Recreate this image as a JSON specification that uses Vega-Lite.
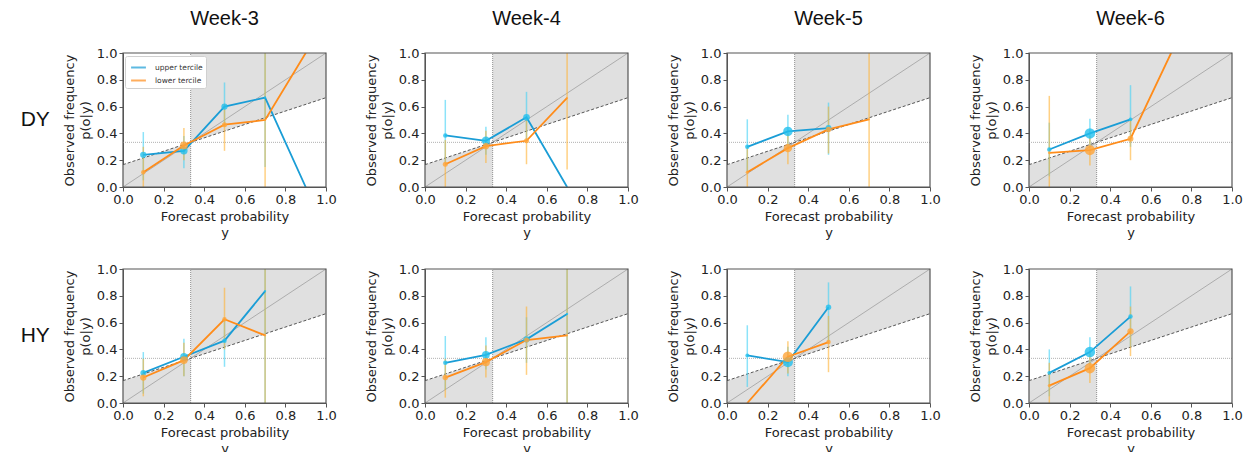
{
"$schema": "https://vega.github.io/schema/vega-lite/v6.json",
"padding": {"left": 20, "top": 9, "right": 5, "bottom": 0},
"background": "white",
"data": {"values": [
{"r":"DY","c":"Week-3","k":"panel"},{"r":"DY","c":"Week-4","k":"panel"},{"r":"DY","c":"Week-5","k":"panel"},{"r":"DY","c":"Week-6","k":"panel"},
{"r":"HY","c":"Week-3","k":"panel"},{"r":"HY","c":"Week-4","k":"panel"},{"r":"HY","c":"Week-5","k":"panel"},{"r":"HY","c":"Week-6","k":"panel"},
{"r":"DY","c":"Week-3","k":"area","g":"a","x":0,"y":0,"y2":0.1667},{"r":"DY","c":"Week-3","k":"area","g":"a","x":0.3333,"y":0,"y2":0.3333},{"r":"DY","c":"Week-3","k":"area","g":"b","x":0.3333,"y":0.3333,"y2":1},{"r":"DY","c":"Week-3","k":"area","g":"b","x":1,"y":0.6667,"y2":1},
{"r":"DY","c":"Week-4","k":"area","g":"a","x":0,"y":0,"y2":0.1667},{"r":"DY","c":"Week-4","k":"area","g":"a","x":0.3333,"y":0,"y2":0.3333},{"r":"DY","c":"Week-4","k":"area","g":"b","x":0.3333,"y":0.3333,"y2":1},{"r":"DY","c":"Week-4","k":"area","g":"b","x":1,"y":0.6667,"y2":1},
{"r":"DY","c":"Week-5","k":"area","g":"a","x":0,"y":0,"y2":0.1667},{"r":"DY","c":"Week-5","k":"area","g":"a","x":0.3333,"y":0,"y2":0.3333},{"r":"DY","c":"Week-5","k":"area","g":"b","x":0.3333,"y":0.3333,"y2":1},{"r":"DY","c":"Week-5","k":"area","g":"b","x":1,"y":0.6667,"y2":1},
{"r":"DY","c":"Week-6","k":"area","g":"a","x":0,"y":0,"y2":0.1667},{"r":"DY","c":"Week-6","k":"area","g":"a","x":0.3333,"y":0,"y2":0.3333},{"r":"DY","c":"Week-6","k":"area","g":"b","x":0.3333,"y":0.3333,"y2":1},{"r":"DY","c":"Week-6","k":"area","g":"b","x":1,"y":0.6667,"y2":1},
{"r":"HY","c":"Week-3","k":"area","g":"a","x":0,"y":0,"y2":0.1667},{"r":"HY","c":"Week-3","k":"area","g":"a","x":0.3333,"y":0,"y2":0.3333},{"r":"HY","c":"Week-3","k":"area","g":"b","x":0.3333,"y":0.3333,"y2":1},{"r":"HY","c":"Week-3","k":"area","g":"b","x":1,"y":0.6667,"y2":1},
{"r":"HY","c":"Week-4","k":"area","g":"a","x":0,"y":0,"y2":0.1667},{"r":"HY","c":"Week-4","k":"area","g":"a","x":0.3333,"y":0,"y2":0.3333},{"r":"HY","c":"Week-4","k":"area","g":"b","x":0.3333,"y":0.3333,"y2":1},{"r":"HY","c":"Week-4","k":"area","g":"b","x":1,"y":0.6667,"y2":1},
{"r":"HY","c":"Week-5","k":"area","g":"a","x":0,"y":0,"y2":0.1667},{"r":"HY","c":"Week-5","k":"area","g":"a","x":0.3333,"y":0,"y2":0.3333},{"r":"HY","c":"Week-5","k":"area","g":"b","x":0.3333,"y":0.3333,"y2":1},{"r":"HY","c":"Week-5","k":"area","g":"b","x":1,"y":0.6667,"y2":1},
{"r":"HY","c":"Week-6","k":"area","g":"a","x":0,"y":0,"y2":0.1667},{"r":"HY","c":"Week-6","k":"area","g":"a","x":0.3333,"y":0,"y2":0.3333},{"r":"HY","c":"Week-6","k":"area","g":"b","x":0.3333,"y":0.3333,"y2":1},{"r":"HY","c":"Week-6","k":"area","g":"b","x":1,"y":0.6667,"y2":1},

{"r":"DY","c":"Week-3","k":"pt","s":"upper tercile","x":0.1,"y":0.24,"lo":0.05,"hi":0.41,"n":40},
{"r":"DY","c":"Week-3","k":"pt","s":"upper tercile","x":0.3,"y":0.27,"lo":0.14,"hi":0.38,"n":55},
{"r":"DY","c":"Week-3","k":"pt","s":"upper tercile","x":0.5,"y":0.6,"lo":0.45,"hi":0.78,"n":40},
{"r":"DY","c":"Week-3","k":"pt","s":"upper tercile","x":0.7,"y":0.667,"lo":0.15,"hi":1,"n":5},
{"r":"DY","c":"Week-3","k":"pt","s":"upper tercile","x":0.9,"y":0,"n":2},
{"r":"DY","c":"Week-3","k":"pt","s":"lower tercile","x":0.1,"y":0.11,"lo":0,"hi":0.3,"n":20},
{"r":"DY","c":"Week-3","k":"pt","s":"lower tercile","x":0.3,"y":0.31,"lo":0.2,"hi":0.44,"n":60},
{"r":"DY","c":"Week-3","k":"pt","s":"lower tercile","x":0.5,"y":0.465,"lo":0.27,"hi":0.62,"n":25},
{"r":"DY","c":"Week-3","k":"pt","s":"lower tercile","x":0.7,"y":0.5,"lo":0,"hi":1,"n":5},
{"r":"DY","c":"Week-3","k":"pt","s":"lower tercile","x":0.9,"y":1,"n":2},

{"r":"DY","c":"Week-4","k":"pt","s":"upper tercile","x":0.1,"y":0.385,"lo":0.18,"hi":0.65,"n":20},
{"r":"DY","c":"Week-4","k":"pt","s":"upper tercile","x":0.3,"y":0.345,"lo":0.24,"hi":0.45,"n":70},
{"r":"DY","c":"Week-4","k":"pt","s":"upper tercile","x":0.5,"y":0.52,"lo":0.35,"hi":0.71,"n":45},
{"r":"DY","c":"Week-4","k":"pt","s":"upper tercile","x":0.7,"y":0,"n":2},
{"r":"DY","c":"Week-4","k":"pt","s":"lower tercile","x":0.1,"y":0.17,"lo":0,"hi":0.35,"n":25},
{"r":"DY","c":"Week-4","k":"pt","s":"lower tercile","x":0.3,"y":0.305,"lo":0.18,"hi":0.42,"n":40},
{"r":"DY","c":"Week-4","k":"pt","s":"lower tercile","x":0.5,"y":0.345,"lo":0.17,"hi":0.52,"n":25},
{"r":"DY","c":"Week-4","k":"pt","s":"lower tercile","x":0.7,"y":0.665,"lo":0.13,"hi":1,"n":4},

{"r":"DY","c":"Week-5","k":"pt","s":"upper tercile","x":0.1,"y":0.3,"lo":0.12,"hi":0.505,"n":20},
{"r":"DY","c":"Week-5","k":"pt","s":"upper tercile","x":0.3,"y":0.415,"lo":0.3,"hi":0.54,"n":90},
{"r":"DY","c":"Week-5","k":"pt","s":"upper tercile","x":0.5,"y":0.44,"lo":0.24,"hi":0.63,"n":35},
{"r":"DY","c":"Week-5","k":"pt","s":"lower tercile","x":0.1,"y":0.11,"lo":0,"hi":0.3,"n":10},
{"r":"DY","c":"Week-5","k":"pt","s":"lower tercile","x":0.3,"y":0.29,"lo":0.17,"hi":0.4,"n":70},
{"r":"DY","c":"Week-5","k":"pt","s":"lower tercile","x":0.5,"y":0.43,"lo":0.25,"hi":0.6,"n":30},
{"r":"DY","c":"Week-5","k":"pt","s":"lower tercile","x":0.7,"y":0.505,"lo":0,"hi":1,"n":4},

{"r":"DY","c":"Week-6","k":"pt","s":"upper tercile","x":0.1,"y":0.28,"lo":0.08,"hi":0.48,"n":20},
{"r":"DY","c":"Week-6","k":"pt","s":"upper tercile","x":0.3,"y":0.4,"lo":0.3,"hi":0.51,"n":110},
{"r":"DY","c":"Week-6","k":"pt","s":"upper tercile","x":0.5,"y":0.505,"lo":0.3,"hi":0.76,"n":15},
{"r":"DY","c":"Week-6","k":"pt","s":"lower tercile","x":0.1,"y":0.255,"lo":0,"hi":0.68,"n":8},
{"r":"DY","c":"Week-6","k":"pt","s":"lower tercile","x":0.3,"y":0.275,"lo":0.16,"hi":0.38,"n":100},
{"r":"DY","c":"Week-6","k":"pt","s":"lower tercile","x":0.5,"y":0.36,"lo":0.2,"hi":0.5,"n":35},
{"r":"DY","c":"Week-6","k":"pt","s":"lower tercile","x":0.7,"y":1,"n":2},

{"r":"HY","c":"Week-3","k":"pt","s":"upper tercile","x":0.1,"y":0.225,"lo":0.07,"hi":0.38,"n":35},
{"r":"HY","c":"Week-3","k":"pt","s":"upper tercile","x":0.3,"y":0.345,"lo":0.2,"hi":0.48,"n":55},
{"r":"HY","c":"Week-3","k":"pt","s":"upper tercile","x":0.5,"y":0.465,"lo":0.27,"hi":0.62,"n":20},
{"r":"HY","c":"Week-3","k":"pt","s":"upper tercile","x":0.7,"y":0.835,"lo":0,"hi":1,"n":5},
{"r":"HY","c":"Week-3","k":"pt","s":"lower tercile","x":0.1,"y":0.19,"lo":0.05,"hi":0.33,"n":40},
{"r":"HY","c":"Week-3","k":"pt","s":"lower tercile","x":0.3,"y":0.32,"lo":0.2,"hi":0.45,"n":60},
{"r":"HY","c":"Week-3","k":"pt","s":"lower tercile","x":0.5,"y":0.625,"lo":0.4,"hi":0.86,"n":20},
{"r":"HY","c":"Week-3","k":"pt","s":"lower tercile","x":0.7,"y":0.505,"lo":0,"hi":1,"n":5},

{"r":"HY","c":"Week-4","k":"pt","s":"upper tercile","x":0.1,"y":0.3,"lo":0.1,"hi":0.5,"n":20},
{"r":"HY","c":"Week-4","k":"pt","s":"upper tercile","x":0.3,"y":0.36,"lo":0.25,"hi":0.49,"n":60},
{"r":"HY","c":"Week-4","k":"pt","s":"upper tercile","x":0.5,"y":0.475,"lo":0.3,"hi":0.64,"n":40},
{"r":"HY","c":"Week-4","k":"pt","s":"upper tercile","x":0.7,"y":0.665,"lo":0,"hi":1,"n":5},
{"r":"HY","c":"Week-4","k":"pt","s":"lower tercile","x":0.1,"y":0.19,"lo":0.04,"hi":0.33,"n":30},
{"r":"HY","c":"Week-4","k":"pt","s":"lower tercile","x":0.3,"y":0.305,"lo":0.19,"hi":0.43,"n":65},
{"r":"HY","c":"Week-4","k":"pt","s":"lower tercile","x":0.5,"y":0.47,"lo":0.21,"hi":0.72,"n":25},
{"r":"HY","c":"Week-4","k":"pt","s":"lower tercile","x":0.7,"y":0.505,"lo":0,"hi":1,"n":4},

{"r":"HY","c":"Week-5","k":"pt","s":"upper tercile","x":0.1,"y":0.355,"lo":0.12,"hi":0.58,"n":15},
{"r":"HY","c":"Week-5","k":"pt","s":"upper tercile","x":0.3,"y":0.305,"lo":0.2,"hi":0.42,"n":100},
{"r":"HY","c":"Week-5","k":"pt","s":"upper tercile","x":0.5,"y":0.715,"lo":0.45,"hi":0.9,"n":30},
{"r":"HY","c":"Week-5","k":"pt","s":"lower tercile","x":0.1,"y":0,"n":2},
{"r":"HY","c":"Week-5","k":"pt","s":"lower tercile","x":0.3,"y":0.345,"lo":0.22,"hi":0.46,"n":110},
{"r":"HY","c":"Week-5","k":"pt","s":"lower tercile","x":0.5,"y":0.455,"lo":0.23,"hi":0.65,"n":20},

{"r":"HY","c":"Week-6","k":"pt","s":"upper tercile","x":0.1,"y":0.225,"lo":0.05,"hi":0.4,"n":15},
{"r":"HY","c":"Week-6","k":"pt","s":"upper tercile","x":0.3,"y":0.38,"lo":0.28,"hi":0.49,"n":110},
{"r":"HY","c":"Week-6","k":"pt","s":"upper tercile","x":0.5,"y":0.645,"lo":0.42,"hi":0.87,"n":20},
{"r":"HY","c":"Week-6","k":"pt","s":"lower tercile","x":0.1,"y":0.13,"lo":0,"hi":0.3,"n":10},
{"r":"HY","c":"Week-6","k":"pt","s":"lower tercile","x":0.3,"y":0.26,"lo":0.15,"hi":0.37,"n":110},
{"r":"HY","c":"Week-6","k":"pt","s":"lower tercile","x":0.5,"y":0.535,"lo":0.35,"hi":0.72,"n":40}
]},
"facet": {
  "row": {"field": "r", "type": "nominal", "title": null, "header": {"labelAngle": 0, "labelOrient": "left", "labelAlign": "right", "labelBaseline": "middle", "labelPadding": 44, "labelFont": "Liberation Sans", "labelFontSize": 21, "labelColor": "#111"}},
  "column": {"field": "c", "type": "nominal", "title": null, "header": {"labelOrient": "top", "labelPadding": 24, "labelFont": "Liberation Sans", "labelFontSize": 20, "labelColor": "#111"}}
},
"bounds": "flush",
"spacing": {"row": 82, "column": 99},
"resolve": {"axis": {"x": "independent", "y": "independent"}},
"spec": {
  "width": 203,
  "height": 134,
  "layer": [
    {
      "transform": [{"filter": "datum.k == 'area'"}],
      "mark": {"type": "area", "color": "#e0e0e0", "opacity": 1},
      "encoding": {
        "x": {"field": "x", "type": "quantitative", "scale": {"domain": [0, 1], "nice": false, "zero": false}, "title": ["Forecast probability", "y"]},
        "y": {"field": "y", "type": "quantitative", "scale": {"domain": [0, 1], "nice": false, "zero": false}, "title": ["Observed frequency", "p(o|y)"]},
        "y2": {"field": "y2"},
        "detail": {"field": "g"}
      }
    },
    {
      "transform": [{"filter": "datum.k == 'panel'"}],
      "mark": {"type": "rule", "color": "#909090", "strokeWidth": 1, "strokeDash": [1, 1]},
      "encoding": {
        "x": {"datum": 0.3333, "type": "quantitative", "title": ["Forecast probability", "y"]},
        "y": {"datum": 0, "type": "quantitative", "title": ["Observed frequency", "p(o|y)"]},
        "y2": {"datum": 1}
      }
    },
    {
      "transform": [{"filter": "datum.k == 'panel'"}],
      "mark": {"type": "rule", "color": "#b0b0b0", "strokeWidth": 1, "strokeDash": [1, 1]},
      "encoding": {
        "x": {"datum": 0, "type": "quantitative", "title": ["Forecast probability", "y"]},
        "x2": {"datum": 1},
        "y": {"datum": 0.3333, "type": "quantitative", "title": ["Observed frequency", "p(o|y)"]}
      }
    },
    {
      "transform": [{"filter": "datum.k == 'panel'"}],
      "mark": {"type": "rule", "color": "#a0a0a0", "strokeWidth": 0.8},
      "encoding": {
        "x": {"datum": 0, "type": "quantitative", "title": ["Forecast probability", "y"]},
        "x2": {"datum": 1},
        "y": {"datum": 0, "type": "quantitative", "title": ["Observed frequency", "p(o|y)"]},
        "y2": {"datum": 1}
      }
    },
    {
      "transform": [{"filter": "datum.k == 'panel'"}],
      "mark": {"type": "rule", "color": "#444444", "strokeWidth": 0.9, "strokeDash": [3, 2]},
      "encoding": {
        "x": {"datum": 0, "type": "quantitative", "title": ["Forecast probability", "y"]},
        "x2": {"datum": 1},
        "y": {"datum": 0.1667, "type": "quantitative", "title": ["Observed frequency", "p(o|y)"]},
        "y2": {"datum": 0.6667}
      }
    },
    {
      "transform": [{"filter": "datum.k == 'pt' && isValid(datum.lo)"}],
      "mark": {"type": "rule", "strokeWidth": 1.5, "opacity": 0.6},
      "encoding": {
        "x": {"field": "x", "type": "quantitative", "title": ["Forecast probability", "y"]},
        "y": {"field": "lo", "type": "quantitative", "title": ["Observed frequency", "p(o|y)"]},
        "y2": {"field": "hi"},
        "color": {"condition": {"test": "datum.s == 'upper tercile'", "value": "#3fd0f5"}, "value": "#ffb030"}
      }
    },
    {
      "transform": [{"filter": "datum.k == 'pt'"}],
      "mark": {"type": "line", "strokeWidth": 1.8, "clip": true},
      "encoding": {
        "x": {"field": "x", "type": "quantitative", "title": ["Forecast probability", "y"]},
        "y": {"field": "y", "type": "quantitative", "title": ["Observed frequency", "p(o|y)"]},
        "color": {"field": "s", "type": "nominal", "scale": {"domain": ["upper tercile", "lower tercile"], "range": ["#1a9dd6", "#ff8c1a"]},
          "legend": {"orient": "none", "legendX": 2, "legendY": 3, "title": null, "symbolType": "stroke", "symbolSize": 220, "symbolStrokeWidth": 2, "symbolOpacity": 0.7, "labelFont": "DejaVu Sans", "labelFontSize": 7.5, "labelColor": "#333", "labelOffset": 8, "fillColor": "white", "strokeColor": "#d0d0d0", "padding": 3, "cornerRadius": 2, "rowPadding": -2, "symbolOffset": 2}}
      }
    },
    {
      "transform": [{"filter": "datum.k == 'pt'"}],
      "mark": {"type": "circle", "opacity": 0.8, "clip": true},
      "encoding": {
        "x": {"field": "x", "type": "quantitative", "title": ["Forecast probability", "y"]},
        "y": {"field": "y", "type": "quantitative", "title": ["Observed frequency", "p(o|y)"]},
        "size": {"field": "n", "type": "quantitative", "scale": {"type": "linear", "domain": [0, 110], "range": [0, 110]}, "legend": null},
        "color": {"condition": {"test": "datum.s == 'upper tercile'", "value": "#22bfee"}, "value": "#ffa53a"}
      }
    },
    {
      "transform": [{"filter": "datum.k == 'panel'"}],
      "mark": {"type": "rect", "fill": null, "fillOpacity": 0, "stroke": "#555555", "strokeWidth": 1.2},
      "encoding": {
        "x": {"datum": 0, "type": "quantitative", "title": ["Forecast probability", "y"]},
        "x2": {"datum": 1},
        "y": {"datum": 0, "type": "quantitative", "title": ["Observed frequency", "p(o|y)"]},
        "y2": {"datum": 1}
      }
    }
  ]
},
"config": {
  "font": "DejaVu Sans",
  "view": {"stroke": null},
  "axis": {"grid": false, "labelFont": "DejaVu Sans", "titleFont": "DejaVu Sans", "labelFontSize": 13, "titleFontSize": 13, "titleFontWeight": "normal", "labelColor": "#222222", "titleColor": "#222222", "domainColor": "#555555", "tickColor": "#555555", "tickSize": 4, "values": [0, 0.2, 0.4, 0.6, 0.8, 1], "format": ".1f", "labelFlush": false, "labelOverlap": false, "titleLineHeight": 16}
}
}
